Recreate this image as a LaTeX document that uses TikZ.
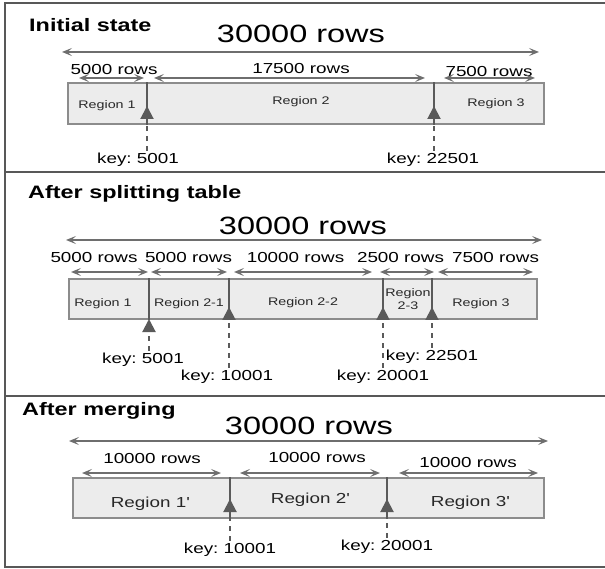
\documentclass[tikz,border=0pt]{standalone}
\usepackage{fontspec}
\setmainfont{Liberation Sans}[FakeStretch=1.3]
\frenchspacing
\usetikzlibrary{arrows.meta}
\definecolor{splitFrame}{RGB}{88,88,88}
\definecolor{splitEdge}{RGB}{140,140,140}
\definecolor{splitFill}{RGB}{236,236,236}
\definecolor{splitDark}{RGB}{90,90,90}
\definecolor{splitArrow}{RGB}{110,110,110}
\definecolor{splitText}{RGB}{40,40,40}

\begin{document}
\begin{tikzpicture}[x=1pt, y=-1pt,
    frame/.style={draw=splitFrame, line width=2pt},
    bar/.style={rectangle, draw=splitEdge, fill=splitFill, line width=1.3pt, inner sep=0pt},
    div/.style={splitDark, line width=1.8pt},
    rng/.style={{Stealth[length=10pt,width=8pt,inset=4.5pt]}-{Stealth[length=10pt,width=8pt,inset=4.5pt]},
                splitArrow, line width=1.3pt},
    keyarr/.style={-{Triangle[length=13pt,width=13pt]}, splitDark, line width=2pt},
    keydash/.style={splitDark, line width=2pt, dash pattern=on 5pt off 5pt},
    title/.style={anchor=west, inner sep=0pt, yshift=-1.5pt, font=\bfseries\fontsize{18}{20}\selectfont},
    total/.style={yshift=-1pt, font=\fontsize{25}{28}\selectfont},
    cnt/.style={yshift=-1.5pt, font=\fontsize{14.5}{16}\selectfont},
    reg/.style={yshift=-1.5pt, font=\fontsize{11}{13}\selectfont, text=splitText, align=center},
    regbig/.style={yshift=-1.5pt, font=\fontsize{14.5}{16}\selectfont, text=splitText},
    key/.style={yshift=-1.5pt, font=\fontsize{14.5}{16}\selectfont, inner sep=2pt}
  ]
  \clip (0,0) rectangle (605,569);

  % panel frames
  \draw[frame] (5,3) rectangle (612,172);
  \draw[frame] (5,172) rectangle (612,396);
  \draw[frame] (5,396) rectangle (612,567);

  % ---- initial state
  \node[title] (ttl1) at (29,24) {Initial state};
  \node[total] (tot1) at (301,33) {30000 rows};
  \draw[rng] (62,52) -- (539,52);
  \node[cnt] (c1a) at (114,68) {5000 rows};
  \node[cnt] (c1b) at (301,67) {17500 rows};
  \node[cnt] (c1c) at (489,70) {7500 rows};
  \draw[rng] (79,78) -- (144,78);
  \draw[rng] (154,78) -- (425,78);
  \draw[rng] (444,78) -- (535,78);
  \node[bar, minimum width=476pt, minimum height=41pt] (bar1) at (306,103.5) {};
  \node[reg] (r1a) at (107,104) {Region 1};
  \node[reg] (r1b) at (301,100) {Region 2};
  \node[reg] (r1c) at (496,102) {Region 3};
  \coordinate (t1a) at (147,106);
  \coordinate (t1b) at (434,106);
  \draw[div] (bar1.north -| t1a) -- (bar1.south -| t1a);
  \draw[div] (bar1.north -| t1b) -- (bar1.south -| t1b);
  \node[key] (k1a) at (138,158) {key: 5001};
  \node[key] (k1b) at (433,158) {key: 22501};
  \draw[keydash] (t1a |- k1a.north) -- (bar1.south -| t1a);
  \draw[keyarr] (bar1.south -| t1a) -- (t1a);
  \draw[keydash] (t1b |- k1b.north) -- (bar1.south -| t1b);
  \draw[keyarr] (bar1.south -| t1b) -- (t1b);

  % ---- after splitting
  \node[title] (ttl2) at (28,192) {After splitting table};
  \node[total] (tot2) at (303,225) {30000 rows};
  \draw[rng] (66,240) -- (542,240);
  \node[cnt] (c2a) at (94,256) {5000 rows};
  \node[cnt] (c2b) at (188.5,256) {5000 rows};
  \node[cnt] (c2c) at (295.5,256) {10000 rows};
  \node[cnt] (c2d) at (400.5,256) {2500 rows};
  \node[cnt] (c2e) at (495.5,256) {7500 rows};
  \draw[rng] (71,272) -- (148,272);
  \draw[rng] (151,272) -- (227,272);
  \draw[rng] (234,272) -- (372,272);
  \draw[rng] (380,272) -- (434,272);
  \draw[rng] (438,272) -- (533,272);
  \node[bar, minimum width=468pt, minimum height=40pt] (bar2) at (303,299) {};
  \node[reg] (r2a) at (103,302) {Region 1};
  \node[reg] (r2b) at (189,302) {Region 2-1};
  \node[reg] (r2c) at (303,301) {Region 2-2};
  \node[reg] (r2d) at (408,297.5) {Region\\2-3};
  \node[reg] (r2e) at (481,302) {Region 3};
  \coordinate (t2a) at (149,319);
  \coordinate (t2b) at (229,307);
  \coordinate (t2c) at (383,307);
  \coordinate (t2d) at (432,307);
  \draw[div] (bar2.north -| t2a) -- (bar2.south -| t2a);
  \draw[div] (bar2.north -| t2b) -- (bar2.south -| t2b);
  \draw[div] (bar2.north -| t2c) -- (bar2.south -| t2c);
  \draw[div] (bar2.north -| t2d) -- (bar2.south -| t2d);
  \node[key] (k2a) at (143,358) {key: 5001};
  \node[key] (k2b) at (227,375) {key: 10001};
  \node[key] (k2c) at (383,375) {key: 20001};
  \node[key] (k2d) at (432,355) {key: 22501};
  \draw[keyarr, dash pattern=on 5pt off 5pt] (t2a |- k2a.north) -- (t2a);
  \draw[keydash] (t2b |- k2b.north) -- (bar2.south -| t2b);
  \draw[keyarr] (bar2.south -| t2b) -- (t2b);
  \draw[keydash] (t2c |- k2c.north) -- (bar2.south -| t2c);
  \draw[keyarr] (bar2.south -| t2c) -- (t2c);
  \draw[keydash] (t2d |- k2d.north) -- (bar2.south -| t2d);
  \draw[keyarr] (bar2.south -| t2d) -- (t2d);

  % ---- after merging
  \node[title] (ttl3) at (22,409) {After merging};
  \node[total] (tot3) at (309,425) {30000 rows};
  \draw[rng] (69,441) -- (548,441);
  \node[cnt] (c3a) at (152,457) {10000 rows};
  \node[cnt] (c3b) at (317,456) {10000 rows};
  \node[cnt] (c3c) at (468,461) {10000 rows};
  \draw[rng] (82,473) -- (221,473);
  \draw[rng] (240,473) -- (380,473);
  \draw[rng] (399,473) -- (538,473);
  \node[bar, minimum width=471pt, minimum height=40pt] (bar3) at (308.5,498) {};
  \node[regbig] (r3a) at (150,502) {Region 1\textquotesingle};
  \node[regbig] (r3b) at (310,498) {Region 2\textquotesingle};
  \node[regbig] (r3c) at (470,501) {Region 3\textquotesingle};
  \coordinate (t3a) at (230,499);
  \coordinate (t3b) at (387,499);
  \draw[div] (bar3.north -| t3a) -- (bar3.south -| t3a);
  \draw[div] (bar3.north -| t3b) -- (bar3.south -| t3b);
  \node[key] (k3a) at (230,548) {key: 10001};
  \node[key] (k3b) at (387,545) {key: 20001};
  \draw[keydash] (t3a |- k3a.north) -- (bar3.south -| t3a);
  \draw[keyarr] (bar3.south -| t3a) -- (t3a);
  \draw[keydash] (t3b |- k3b.north) -- (bar3.south -| t3b);
  \draw[keyarr] (bar3.south -| t3b) -- (t3b);
\end{tikzpicture}
\end{document}
